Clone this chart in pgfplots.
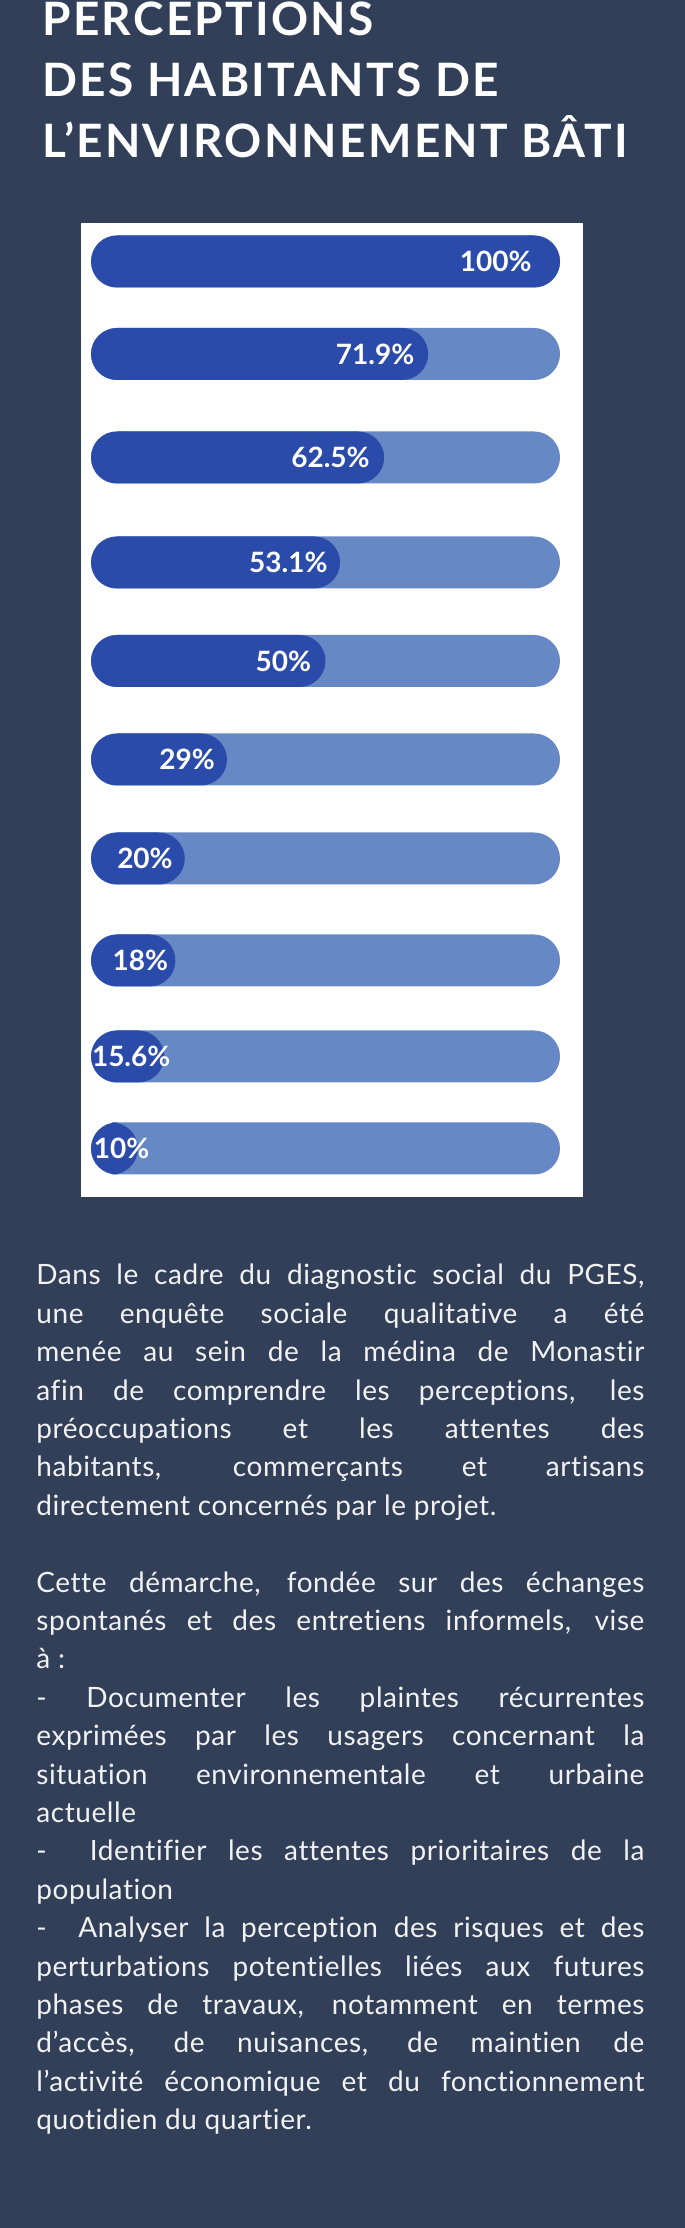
\documentclass[border=0pt]{standalone}
\usepackage{pgfplots}
\pgfplotsset{compat=1.18}
\usepackage{pgfplotstable}
\usepackage{fontspec}
\setmainfont{Lato}[Ligatures=NoCommon]
\newfontfamily\titlefont{Lato}[LetterSpace=5.0]
\newfontfamily\bodyfont{Lato}[LetterSpace=2.0, Ligatures=NoCommon]

\definecolor{navy}{HTML}{323F58}
\definecolor{barfull}{HTML}{6689C6}
\definecolor{bardark}{HTML}{2A4BAA}
\definecolor{bodytext}{HTML}{F2F2F2}

% row position (px from top), value (%), x where the label ends, label
\pgfplotstableread{
pos    val  lx   lab
261.5  100  94   100
354    71.9 69   71.9
457.5  62.5 59.5 62.5
562.5  53.1 50.5 53.1
661    50   47   50
759.5  29   26.5 29
858.5  20   17.5 20
960.5  18   16.5 18
1056.5 15.6 17   15.6
1148.5 10   12.5 10
}\bars

% one justified line / one flush-left line of the body text
\newcommand\J[1]{\makebox[\linewidth][s]{#1}\par}
\newcommand\R[1]{#1\par}

\begin{document}
\begin{tikzpicture}
  \fill[navy] (0,0) rectangle (342.5bp,1114bp);
  \fill[white] (40.5bp,515.5bp) rectangle (291.5bp,1002.5bp);

  \node[anchor=base west, inner sep=0pt, text=white] at (21bp,1096.25bp)
    {\parbox[t]{320bp}{\titlefont\bfseries\fontsize{23bp}{30.5bp}\selectfont
      PERCEPTIONS\\
      DES HABITANTS DE\\
      L’ENVIRONNEMENT BÂTI}};

  \begin{axis}[
    at={(45.5bp,514.35bp)}, anchor=south west,
    scale only axis,
    width=234.5bp, height=493.3bp,
    xmin=0, xmax=100,
    ymin=212.7, ymax=1199.3,
    y dir=reverse,
    hide axis,
    clip=false,
  ]
    % light track, full length
    \addplot[xbar, bar shift=0pt, bar width=26bp, fill=barfull, draw=none,
      rounded corners=13bp] table[x expr=100, y=pos] {\bars};
    % the value
    \addplot[xbar, bar shift=0pt, bar width=26bp, fill=bardark, draw=none,
      rounded corners=13bp] table[x=val, y=pos] {\bars};
    % labels
    \addplot[draw=none, mark=none,
      nodes near coords={\pgfplotspointmeta\%},
      point meta=explicit symbolic,
      nodes near coords style={anchor=east, inner sep=0pt, text=white,
        font=\bfseries\fontsize{14bp}{15bp}\selectfont}]
      table[x=lx, y=pos, meta=lab] {\bars};
  \end{axis}

  \node[anchor=base west, inner sep=0pt, text=bodytext] at (18bp,471.5bp)
    {\parbox[t]{304bp}{\bodyfont\fontsize{14bp}{19.2bp}\selectfont
      \setlength{\parindent}{0pt}%
      \J{Dans le cadre du diagnostic social du PGES,}
      \J{une enquête sociale qualitative a été}
      \J{menée au sein de la médina de Monastir}
      \J{afin de comprendre les perceptions, les}
      \J{préoccupations et les attentes des}
      \J{habitants, commerçants et artisans}
      \R{directement concernés par le projet.}
      \R{\mbox{}}
      \J{Cette démarche, fondée sur des échanges}
      \J{spontanés et des entretiens informels, vise}
      \R{à~:}
      \J{- Documenter les plaintes récurrentes}
      \J{exprimées par les usagers concernant la}
      \J{situation environnementale et urbaine}
      \R{actuelle}
      \J{- \ Identifier les attentes prioritaires de la}
      \R{population}
      \J{- \ Analyser la perception des risques et des}
      \J{perturbations potentielles liées aux futures}
      \J{phases de travaux, notamment en termes}
      \J{d’accès, de nuisances, de maintien de}
      \J{l’activité économique et du fonctionnement}
      \R{quotidien du quartier.}}};

  \pgfresetboundingbox
  \useasboundingbox (0,0) rectangle (342.5bp,1114bp);
\end{tikzpicture}
\end{document}
